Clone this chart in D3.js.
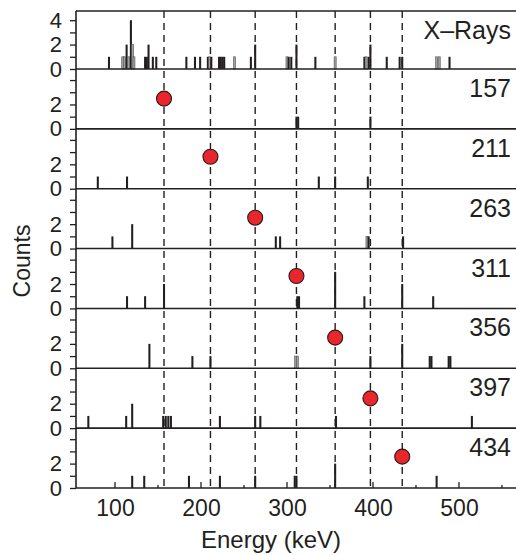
<!DOCTYPE html>
<html>
<head>
<meta charset="utf-8">
<script src="https://cdn.jsdelivr.net/npm/d3@7"></script>
<style>
  html, body { margin: 0; padding: 0; background: #fff; }
  svg { display: block; }
  text { font-family: "Liberation Sans", Arial, Helvetica, sans-serif; fill: #231f20; }
</style>
</head>
<body>
<svg id="chart" width="516" height="555"></svg>
<script>
// ---------------- data ----------------
const panelLabels = ["X\u2013Rays", "157", "211", "263", "311", "356", "397", "434"];
// gate energies (keV) of the dashed lines / red markers
const gateEnergies = [157, 211, 263, 311, 356, 397, 434];
// marker heights (counts) in panels 2..8
const markerCounts = [2.48, 2.62, 2.53, 2.66, 2.51, 2.44, 2.57];

// [energy keV, counts, tentative(1) / firm(0)]
const xRays = [
  [93,1,0],[109,1,1],[111,1,1],[113.5,2,0],[116,1,1],[118.5,4,0],[120.5,2,1],[122,1,1],
  [135,1,0],[137,1,0],[139,2,0],[144,1,0],[148,1,0],[183,1,0],[193,1,0],[199,1,0],
  [208,1,0],[210,1,1],[212,1,0],[221,1,0],[223,1,0],[225,1,0],[227,1,0],[239,1,1],
  [258,1,0],[263,2,0],[300,1,1],[302,1,0],[305,1,0],[311,2,0],[333,1,0],[356,1,1],
  [390,1,0],[392,1,1],[395,1,0],[397,2,0],[416,1,0],[431,1,0],[434,1,0],[474,1,1],
  [477,1,1],[489,1,0]
];
const gate157 = [[311,1,0],[313,1,0],[397,1,0]];
const gate211 = [[80,1,0],[114,1,0],[337,1,0],[356,1,0],[394,1,0]];
const gate263 = [[97,1,0],[120,2,0],[287,1,0],[292,1,0],[393,1,1],[395,1,0],[435,1,0]];
const gate311 = [[114,1,0],[135,1,0],[157,2,0],[312,1,0],[314,1,0],[356,3,0],[390,1,0],[434,2,0],[470,1,0]];
const gate356 = [[140,2,0],[190,1,0],[211,1,0],[310,1,1],[312,1,1],[397,1,0],[434,2,0],[466,1,0],[468,1,0],[488,1,0],[490,1,0]];
const gate397 = [[69,1,0],[113,1,0],[120,2,0],[156,1,0],[159,1,0],[162,1,0],[165,1,0],[222,1,0],[263,1,0],[269,1,0],[357,1,0],[515,1,0]];
const gate434 = [[120,1,0],[134,1,0],[186,1,0],[222,1,0],[263,1,0],[309,1,0],[311,1,0],[356,2,0],[474,1,0]];

const spectra = [xRays, gate157, gate211, gate263, gate311, gate356, gate397, gate434];
const yTicks = [0, 1, 2, 3, 4];
const xMajorTicks = [100, 200, 300, 400, 500];
const xMinorTicks = [150, 250, 350, 450, 550];
const xDomain = [54.65, 566.3];

// ---------------- layout ----------------
const svg = d3.select("#chart");
const plotLeft = 76, plotRight = 516, plotTop = 11, plotBottom = 488;
const firstBase = 69;
const step = (plotBottom - firstBase) / (spectra.length - 1);
const pxPerCount = 12.2;
const BIN = 2.4; // keV width of each histogram bar

const x = d3.scaleLinear().domain(xDomain).range([plotLeft, plotRight]);

const ink = "#231f20";

// dashed gate lines
svg.append("g").selectAll("line").data(gateEnergies).join("line")
  .attr("x1", d => x(d)).attr("x2", d => x(d))
  .attr("y1", plotTop).attr("y2", plotBottom)
  .attr("stroke", "#231f20").attr("stroke-width", 1.4)
  .attr("stroke-dasharray", "7,5");

spectra.forEach((data, i) => {
  const base = firstBase + i * step;
  const topY = i === 0 ? plotTop : base - step;
  const y = d3.scaleLinear().domain([0, (base - topY) / pxPerCount]).range([base, topY]);
  const g = svg.append("g");

  // bars
  g.selectAll("rect").data(data).join("rect")
    .attr("x", d => x(d[0] - BIN / 2))
    .attr("width", d => x(d[0] + BIN / 2) - x(d[0] - BIN / 2))
    .attr("y", d => y(d[1]))
    .attr("height", d => y(0) - y(d[1]))
    .attr("fill", d => d[2] ? "#a0a0a0" : ink)
    .attr("stroke", d => d[2] ? "#555" : "none")
    .attr("stroke-width", 0.6);

  // baseline
  g.append("line").attr("x1", plotLeft).attr("x2", plotRight + 2)
    .attr("y1", base).attr("y2", base)
    .attr("stroke", ink).attr("stroke-width", 1.6);

  // y axis
  const ax = d3.axisLeft(y).tickValues(yTicks).tickSize(6).tickPadding(8)
    .tickFormat(d => (i === 0 ? d % 2 === 0 : (d === 0 || d === 2)) ? d : "");
  const ag = g.append("g").attr("transform", `translate(${plotLeft},0)`).call(ax);
  ag.select(".domain").remove();
  ag.selectAll(".tick line").attr("stroke", ink).attr("stroke-width", 1.3);
  ag.selectAll(".tick text").style("font-size", "22px").attr("fill", ink);

  // marker
  if (i > 0) {
    g.append("circle")
      .attr("cx", x(gateEnergies[i - 1]))
      .attr("cy", y(markerCounts[i - 1]))
      .attr("r", 7.5)
      .attr("fill", "#e8262b").attr("stroke", "#2a1a1a").attr("stroke-width", 1.1);
  }

  // panel label
  g.append("text").attr("x", 511).attr("y", topY + 28)
    .attr("text-anchor", "end").style("font-size", "25px")
    .text(panelLabels[i]);
});

// frame: top line and left axis line
svg.append("line").attr("x1", plotLeft).attr("x2", plotRight + 2).attr("y1", plotTop).attr("y2", plotTop)
  .attr("stroke", ink).attr("stroke-width", 1.6);
svg.append("line").attr("x1", plotLeft).attr("x2", plotLeft).attr("y1", plotTop).attr("y2", plotBottom)
  .attr("stroke", ink).attr("stroke-width", 1.6);

// x axis
const xg = svg.append("g").attr("transform", `translate(0,${plotBottom})`)
  .call(d3.axisBottom(x).tickValues(xMajorTicks).tickSize(0).tickPadding(12));
xg.select(".domain").remove();
xg.selectAll(".tick text").style("font-size", "23px").attr("fill", ink);
svg.append("g").selectAll("line").data(xMajorTicks).join("line")
  .attr("x1", d => x(d)).attr("x2", d => x(d))
  .attr("y1", plotBottom).attr("y2", plotBottom - 6)
  .attr("stroke", ink).attr("stroke-width", 1.3);
svg.append("g").selectAll("line").data(xMinorTicks).join("line")
  .attr("x1", d => x(d)).attr("x2", d => x(d))
  .attr("y1", plotBottom).attr("y2", plotBottom - 3)
  .attr("stroke", ink).attr("stroke-width", 1.3);

// axis titles
svg.append("text").attr("x", 271).attr("y", 548)
  .attr("text-anchor", "middle").style("font-size", "24px")
  .text("Energy (keV)");
svg.append("text")
  .attr("transform", "translate(30,261) rotate(-90)")
  .attr("text-anchor", "middle").style("font-size", "23px")
  .text("Counts");
</script>
</body>
</html>
